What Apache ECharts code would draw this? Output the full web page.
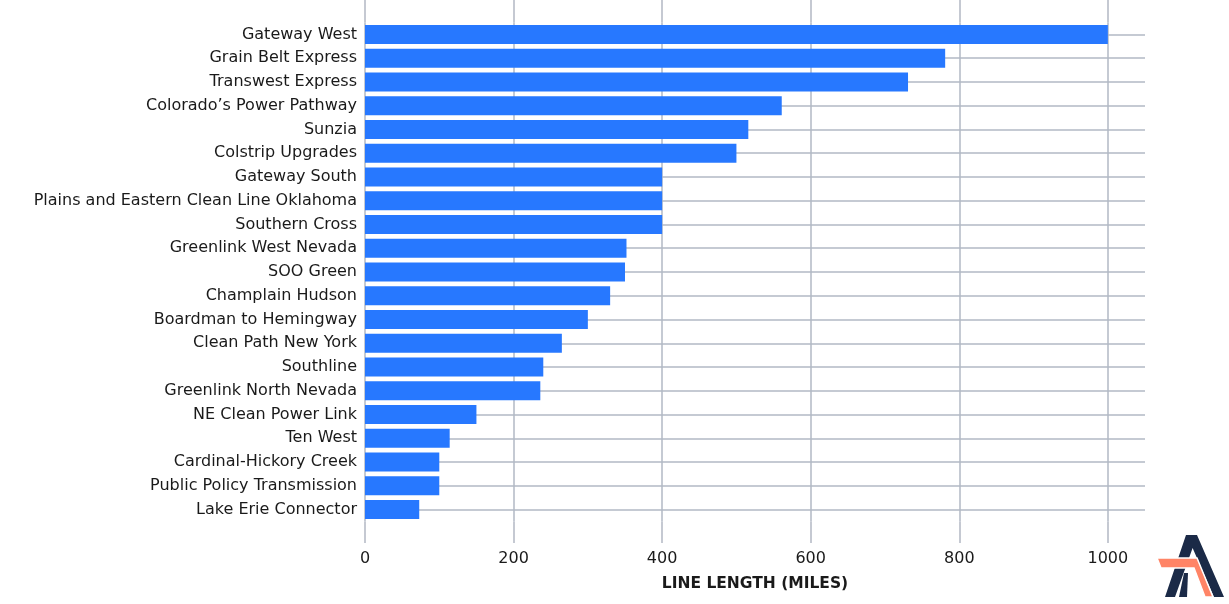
<!DOCTYPE html>
<html>
<head>
<meta charset="utf-8">
<script src="https://cdn.jsdelivr.net/npm/echarts@6/dist/echarts.min.js"></script>
<style>
html,body{margin:0;padding:0;background:#fff;}
#chart{width:1229px;height:604px;}
</style>
</head>
<body>
<div id="chart"></div>
<script>
const categories = [
  "Gateway West","Grain Belt Express","Transwest Express","Colorado\u2019s Power Pathway","Sunzia",
  "Colstrip Upgrades","Gateway South","Plains and Eastern Clean Line Oklahoma","Southern Cross",
  "Greenlink West Nevada","SOO Green","Champlain Hudson","Boardman to Hemingway","Clean Path New York",
  "Southline","Greenlink North Nevada","NE Clean Power Link","Ten West","Cardinal-Hickory Creek",
  "Public Policy Transmission","Lake Erie Connector"
];
const lineLengths = [1000,781,731,561,516,500,400,400,400,352,350,330,300,265,240,236,150,114,100,100,73];
const xTicks = [0,200,400,600,800,1000];
const xTitle = "LINE LENGTH (MILES)";

const gridColor = '#b2b8c4';
const chart = echarts.init(document.getElementById('chart'));
const font = '"DejaVu Sans", sans-serif';

chart.setOption({
  animation: false,
  grid: {left: 365, right: 84, top: 22.6, bottom: 82.6, containLabel: false},
  xAxis: [{
    type: 'value', min: 0, max: 1050, interval: 200, position: 'bottom',
    axisLine: {show: true, lineStyle: {opacity: 0}},
    axisTick: {show: true, length: 21.6, inside: false, customValues: xTicks, lineStyle: {color: gridColor, width: 1.5}},
    axisLabel: {customValues: xTicks, margin: 29, fontSize: 16, color: '#1a1a1a', fontFamily: font, formatter: v => String(v)},
    splitLine: {show: true, lineStyle: {color: gridColor, width: 1.5}},
    name: xTitle, nameLocation: 'middle', nameGap: 55,
    nameTextStyle: {fontSize: 15.5, fontWeight: 'bold', color: '#1a1a1a', fontFamily: font}
  }, {
    type: 'value', min: 0, max: 1050, interval: 200, position: 'top',
    axisLine: {show: true, lineStyle: {opacity: 0}},
    axisTick: {show: true, length: 22.6, customValues: xTicks, lineStyle: {color: gridColor, width: 1.5}},
    axisLabel: {show: false},
    splitLine: {show: false}
  }],
  yAxis: {
    type: 'category', inverse: true, data: categories,
    axisLine: {show: false}, axisTick: {show: false},
    axisLabel: {fontSize: 16, color: '#1a1a1a', margin: 8, fontFamily: font},
    splitLine: {show: false}
  },
  series: [{
    type: 'bar', xAxisIndex: 0, data: lineLengths, barWidth: 19,
    itemStyle: {color: '#2778ff'}, z: 3,
    markLine: {
      silent: true, symbol: 'none', z: 1, animation: false,
      label: {show: false},
      lineStyle: {color: gridColor, width: 1.5, type: 'solid'},
      data: categories.map(c => ({yAxis: c}))
    }
  }],
  graphic: [
    {type: 'polygon', shape: {points: [[1186,535],[1197,535],[1224,597],[1214,597],[1192.6,548],[1175,597],[1165,597]]}, style: {fill: '#1b2a47'}},
    {type: 'polygon', shape: {points: [[1184,573],[1188,573],[1187,597],[1179,597]]}, style: {fill: '#1b2a47'}},
    {type: 'polygon', shape: {points: [[1157,558],[1197,558],[1213,597],[1205,597],[1194,568],[1161,568]]}, style: {fill: '#ff8466', stroke: '#fff', lineWidth: 1.5}}
  ]
});
</script>
</body>
</html>
